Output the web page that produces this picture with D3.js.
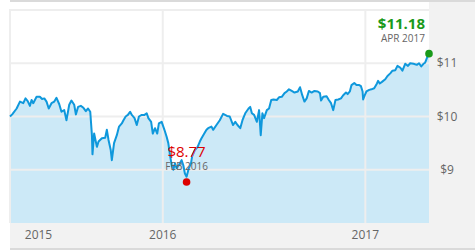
<!DOCTYPE html>
<html>
<head>
<meta charset="utf-8">
<script src="https://cdn.jsdelivr.net/npm/d3@7"></script>
<style>
  body { margin: 0; background: #fff; }
  svg { display: block; font-family: "Open Sans", sans-serif; }
</style>
</head>
<body>
<div id="chart-area"></div>
<script>
// dados (preço semanal aproximado)
const dates = [
  "2015-03-31","2015-04-04","2015-04-12","2015-04-18","2015-04-24","2015-04-28","2015-05-02","2015-05-06","2015-05-09","2015-05-12",
  "2015-05-18","2015-05-24","2015-05-28","2015-06-01","2015-06-05","2015-06-09","2015-06-14","2015-06-19","2015-06-23","2015-06-28",
  "2015-07-02","2015-07-07","2015-07-11","2015-07-16","2015-07-20","2015-07-25","2015-07-28","2015-08-01","2015-08-06","2015-08-10",
  "2015-08-15","2015-08-19","2015-08-23","2015-08-26","2015-08-27","2015-08-30","2015-09-04","2015-09-07","2015-09-13","2015-09-19",
  "2015-09-22","2015-09-25","2015-09-29","2015-10-01","2015-10-05","2015-10-10","2015-10-14","2015-10-19","2015-10-22","2015-10-26",
  "2015-10-30","2015-11-03","2015-11-06","2015-11-11","2015-11-15","2015-11-19","2015-11-24","2015-11-29","2015-12-03","2015-12-06",
  "2015-12-11","2015-12-14","2015-12-18","2015-12-22","2015-12-25","2015-12-30",
  "2016-01-04","2016-01-08","2016-01-11","2016-01-14","2016-01-17","2016-01-20","2016-01-23","2016-01-26","2016-01-30","2016-02-04",
  "2016-02-07","2016-02-10","2016-02-13","2016-02-17","2016-02-21","2016-02-23","2016-02-28","2016-03-04","2016-03-08","2016-03-11",
  "2016-03-16","2016-03-20","2016-03-23","2016-03-29","2016-04-01","2016-04-07","2016-04-13","2016-04-19","2016-04-26","2016-05-01",
  "2016-05-07","2016-05-11","2016-05-15","2016-05-20","2016-05-24","2016-05-29","2016-06-04","2016-06-07","2016-06-10","2016-06-14",
  "2016-06-19","2016-06-23","2016-06-26","2016-06-29","2016-07-02","2016-07-07","2016-07-11","2016-07-15","2016-07-19","2016-07-25",
  "2016-07-29","2016-08-03","2016-08-08","2016-08-12","2016-08-16","2016-08-21","2016-08-26","2016-09-01","2016-09-05","2016-09-09",
  "2016-09-13","2016-09-17","2016-09-21","2016-09-26","2016-10-01","2016-10-07","2016-10-11","2016-10-13","2016-10-17","2016-10-23",
  "2016-10-27","2016-10-31","2016-11-04","2016-11-08","2016-11-13","2016-11-18","2016-11-22","2016-11-27","2016-11-30","2016-12-04",
  "2016-12-07","2016-12-12","2016-12-16","2016-12-21","2016-12-24","2016-12-27","2016-12-28","2016-12-31",
  "2017-01-03","2017-01-08","2017-01-12","2017-01-17","2017-01-22","2017-01-24","2017-01-27","2017-01-31","2017-02-06","2017-02-10",
  "2017-02-15","2017-02-19","2017-02-24","2017-02-28","2017-03-05","2017-03-09","2017-03-14","2017-03-19","2017-03-23","2017-03-29",
  "2017-04-04","2017-04-08","2017-04-12","2017-04-16","2017-04-19","2017-04-22","2017-04-25","2017-04-26"
]
const prices = [
  10.00,10.04,10.15,10.28,10.25,10.34,10.29,10.20,10.31,10.25,
  10.37,10.37,10.33,10.34,10.28,10.15,10.25,10.28,10.35,10.23,
  10.09,10.12,9.93,10.22,10.30,10.22,10.04,10.18,10.20,10.17,
  10.10,10.15,10.09,9.65,9.29,9.68,9.43,9.53,9.59,9.60,
  9.75,9.56,9.37,9.18,9.50,9.65,9.81,9.87,9.93,10.00,
  10.03,10.09,10.03,9.97,9.84,10.00,10.03,10.03,10.06,9.97,
  9.90,9.68,9.78,9.68,9.87,9.90,
  9.75,9.62,9.50,9.28,9.09,9.00,9.12,9.03,9.09,9.18,
  9.09,8.93,8.87,9.03,9.12,9.25,9.37,9.43,9.53,9.59,
  9.68,9.75,9.78,9.81,9.75,9.84,9.93,10.05,10.01,10.00,
  9.84,9.90,9.84,9.78,9.93,10.06,10.15,10.18,10.06,10.03,
  9.90,10.12,9.65,10.06,9.97,10.12,10.15,10.31,10.32,10.31,
  10.36,10.37,10.44,10.47,10.51,10.48,10.45,10.47,10.55,10.40,
  10.28,10.34,10.48,10.45,10.48,10.47,10.44,10.30,10.37,10.38,
  10.31,10.25,10.12,10.31,10.32,10.34,10.40,10.45,10.42,10.47,
  10.59,10.63,10.59,10.59,10.57,10.47,10.32,10.40,
  10.47,10.50,10.51,10.53,10.62,10.67,10.62,10.65,10.70,10.76,
  10.81,10.86,10.87,10.95,10.92,10.86,10.99,10.95,11.00,10.99,
  10.97,11.00,10.94,10.99,11.01,11.09,11.17,11.18
]
const yTicks = [9, 10, 11, 12]
const yLabels = ["$9", "$10", "$11"]
const yearLabels = ["2015", "2016", "2017"]

// pontos destacados: mínima e último preço
const markerDates = ["2016-02-13", "2017-04-26"]
const markerValues = [8.77, 11.18]
const markerPrices = ["$8.77", "$11.18"]
const markerMonths = ["FEB 2016", "APR 2017"]

const W = 475, H = 250
const plot = { left: 10, right: 429, top: 10, bottom: 223 }

const parse = d3.timeParse("%Y-%m-%d")
const data = dates.map((d, i) => ({ date: parse(d), value: prices[i] }))

const svg = d3.select("#chart-area").append("svg")
  .attr("width", W)
  .attr("height", H)

const x = d3.scaleTime()
  .domain(d3.extent(data, d => d.date))
  .range([plot.left, plot.right])

const y = d3.scaleLinear()
  .domain([8, 12])
  .range([plot.bottom, plot.top])

// faixas cinzas (direita, embaixo) e barras de borda
svg.append("rect").attr("x", plot.right).attr("y", 2)
  .attr("width", W - plot.right).attr("height", H - 2).attr("fill", "#f2f2f2")
svg.append("rect").attr("x", plot.left).attr("y", plot.bottom)
  .attr("width", W - plot.left).attr("height", H - plot.bottom).attr("fill", "#f2f2f2")
svg.append("rect").attr("x", plot.left).attr("y", 0)
  .attr("width", W - plot.left).attr("height", 2).attr("fill", "#dadada")
svg.append("rect").attr("x", plot.left).attr("y", 248)
  .attr("width", W - plot.left).attr("height", 2).attr("fill", "#dadada")

// área
const area = d3.area()
  .x(d => x(d.date))
  .y0(plot.bottom)
  .y1(d => y(d.value))

svg.append("path")
  .datum(data)
  .attr("d", area)
  .attr("fill", "#cce9f7")

// grade
const grid = svg.append("g")
  .attr("stroke", "#eeeeee")
  .attr("stroke-width", 2)

grid.selectAll(".h").data(yTicks).enter().append("line")
  .attr("x1", plot.left).attr("x2", plot.right)
  .attr("y1", d => y(d)).attr("y2", d => y(d))

const yearDates = yearLabels.map(d => new Date(+d, 0, 1))
const gridX = [plot.left].concat(yearDates.map(d => x(d)).filter(v => v > plot.left))
grid.selectAll(".v").data(gridX).enter().append("line")
  .attr("x1", d => d).attr("x2", d => d)
  .attr("y1", plot.top - 1).attr("y2", plot.bottom)

// linha
const line = d3.line()
  .x(d => x(d.date))
  .y(d => y(d.value))

svg.append("path")
  .datum(data)
  .attr("d", line)
  .attr("fill", "none")
  .attr("stroke", "#0f98dc")
  .attr("stroke-width", 2)
  .attr("stroke-linejoin", "round")

// rótulos do eixo y (lado direito)
svg.append("g").selectAll("text")
  .data(yLabels).enter().append("text")
  .attr("x", 447)
  .attr("y", (d, i) => y(yTicks[i]))
  .attr("dy", "0.35em")
  .attr("text-anchor", "middle")
  .attr("font-size", "12px")
  .attr("fill", "#666")
  .text(d => d)

// rótulos dos anos
svg.append("g").selectAll("text")
  .data(yearLabels).enter().append("text")
  .attr("x", (d, i) => Math.max(x(yearDates[i]), 38.5))
  .attr("y", 239)
  .attr("text-anchor", "middle")
  .attr("font-size", "12px")
  .attr("fill", "#666")
  .text(d => d)

// marcadores
const colors = ["#dd0000", "#1a9a1a"]
markerDates.forEach((md, i) => {
  const cx = x(parse(md)), cy = y(markerValues[i])
  const last = i === 1
  const tx = last ? cx - 4 : cx
  const anchor = last ? "end" : "middle"
  svg.append("text")
    .attr("x", tx).attr("y", cy - 12)
    .attr("text-anchor", anchor)
    .attr("font-size", "10px")
    .attr("fill", "#666")
    .text(markerMonths[i])
  svg.append("text")
    .attr("x", tx).attr("y", cy - 24.5)
    .attr("text-anchor", anchor)
    .attr("font-size", "15px")
    .attr("font-weight", last ? "bold" : "normal")
    .attr("fill", colors[i])
    .text(markerPrices[i])
  svg.append("circle")
    .attr("cx", cx).attr("cy", cy).attr("r", 3.8)
    .attr("fill", colors[i])
})
</script>
</body>
</html>
